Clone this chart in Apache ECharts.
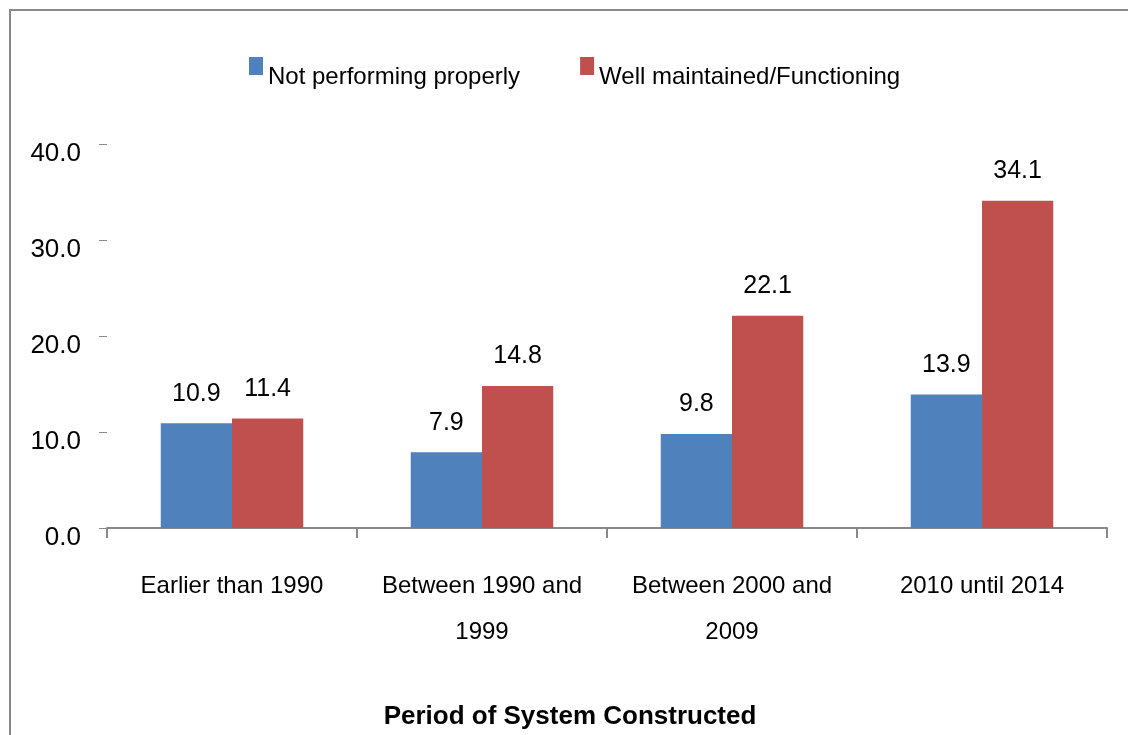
<!DOCTYPE html>
<html><head><meta charset="utf-8">
<script src="https://cdn.jsdelivr.net/npm/echarts@6/dist/echarts.min.js"></script>
<style>html,body{margin:0;padding:0;background:#fff}#c{width:1128px;height:735px}</style>
</head><body><div id="c"></div>
<script>
const categories = ['Earlier than 1990', 'Between 1990 and\n1999', 'Between 2000 and\n2009', '2010 until 2014'];
const seriesNames = ['Not performing properly', 'Well maintained/Functioning'];
const notPerforming = [10.9, 7.9, 9.8, 13.9];
const wellMaintained = [11.4, 14.8, 22.1, 34.1];
const yTicks = [0, 10, 20, 30, 40];
const xAxisTitle = 'Period of System Constructed';

const font = '"Liberation Sans", Arial, sans-serif';
const chart = echarts.init(document.getElementById('c'), null, {renderer: 'canvas'});
const lbl = {show: true, position: 'top', distance: 17, fontSize: 25, color: '#000', fontFamily: font,
  formatter: p => p.value.toFixed(1)};
chart.setOption({
  animation: false,
  backgroundColor: '#fff',
  graphic: [{type: 'rect', shape: {x: 10, y: 10, width: 1140, height: 740},
    style: {fill: 'none', stroke: '#898989', lineWidth: 2}, silent: true, z: 100}],
  legend: {
    top: 52, left: 244, itemWidth: 14, itemHeight: 18, itemGap: 60,
    icon: 'rect',
    formatter: '{t|{name}}',
    textStyle: {fontSize: 24, color: '#000', fontFamily: font,
      rich: {t: {fontSize: 24, color: '#000', fontFamily: font, padding: [22, 0, 0, 0]}}},
    data: seriesNames
  },
  grid: {left: 107, right: 21, top: 144, bottom: 207, containLabel: false},
  xAxis: {
    type: 'category', data: categories,
    axisLine: {show: true, lineStyle: {color: '#898989', width: 2}},
    axisTick: {show: true, length: 10, alignWithLabel: false, interval: 0, lineStyle: {color: '#898989', width: 2}},
    axisLabel: {interval: 0, fontSize: 24, color: '#000', fontFamily: font, lineHeight: 46, margin: 35},
    name: xAxisTitle, nameLocation: 'middle', nameGap: 176,
    nameTextStyle: {fontSize: 26, fontWeight: 'bold', color: '#000', fontFamily: font, padding: [0, 74, 0, 0]}
  },
  yAxis: {
    type: 'value', min: 0, max: 40, interval: 10,
    axisLine: {show: false},
    axisTick: {show: true, length: 8, lineStyle: {color: '#898989', width: 1}},
    splitLine: {show: false},
    axisLabel: {fontSize: 26, color: '#000', fontFamily: font, margin: 26,
      verticalAlign: 'top', lineHeight: 20, formatter: v => v.toFixed(1)}
  },
  series: [
    {name: seriesNames[0], type: 'bar', data: notPerforming, barGap: '0%', barCategoryGap: '43%',
      itemStyle: {color: '#4F81BD'}, label: lbl},
    {name: seriesNames[1], type: 'bar', data: wellMaintained, barGap: '0%', barCategoryGap: '43%',
      itemStyle: {color: '#C0504D'}, label: lbl}
  ]
});
</script></body></html>
